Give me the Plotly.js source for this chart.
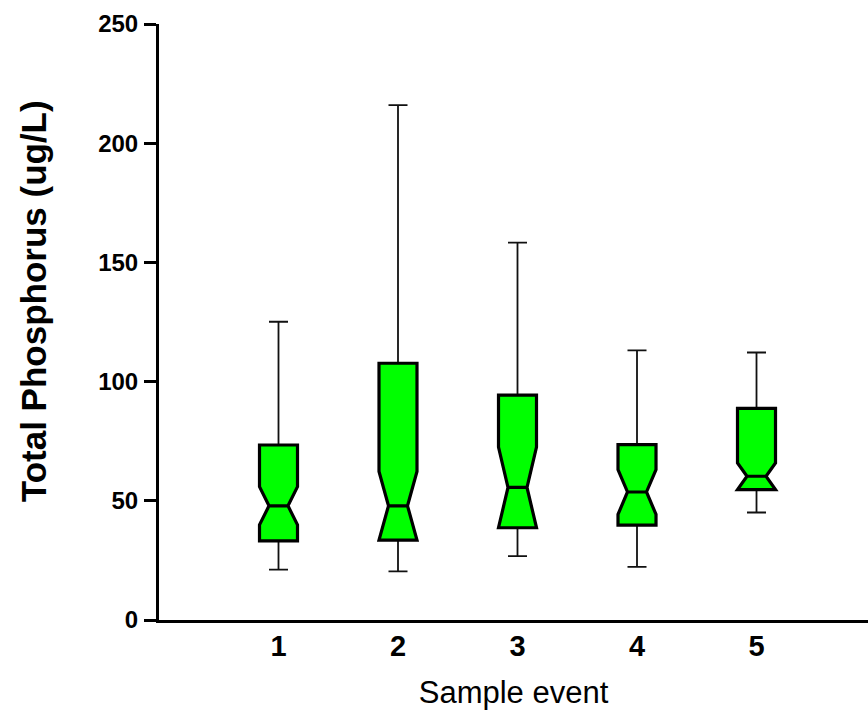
<!DOCTYPE html>
<html>
<head>
<meta charset="utf-8">
<script src="https://cdn.plot.ly/plotly-3.0.1.min.js"></script>
<style>
  html, body { margin: 0; padding: 0; background: #ffffff; }
  #chart { width: 868px; height: 715px; }
</style>
</head>
<body>
<div id="chart"></div>
<script>
// Sample events (x positions / tick labels)
const events = [1, 2, 3, 4, 5];
const eventLabels = ['1', '2', '3', '4', '5'];

// Box statistics (ug/L)
const lowerWhisker = [21.1, 20.4, 26.8, 22.3, 45.1];
const q1Values     = [33.2, 33.5, 38.7, 39.8, 54.7];
const medianValues = [47.9, 47.9, 55.6, 53.7, 60.3];
const q3Values     = [73.4, 107.7, 94.3, 73.6, 88.8];
const upperWhisker = [125.1, 216.0, 158.3, 113.1, 112.2];
const notchSpans   = [8.0, 14.4, 16.9, 9.4, 5.6];

const yTicks = [0, 50, 100, 150, 200, 250];

const fillGreen = '#00ff00';
const boxWidth = 0.318;

// Trace 1: whiskers (thin lines) + box
const whiskerTrace = {
  type: 'box',
  x: events,
  q1: q1Values,
  median: medianValues,
  q3: q3Values,
  lowerfence: lowerWhisker,
  upperfence: upperWhisker,
  notched: true,
  notchspan: notchSpans,
  notchwidth: 0.25,
  width: boxWidth,
  whiskerwidth: 0.5,
  fillcolor: fillGreen,
  line: { color: '#111111', width: 1.8 },
  boxpoints: false,
  hoverinfo: 'skip',
  showlegend: false
};

// Trace 2: thick box outline drawn on top (fences at the quartiles -> no extra whiskers)
const boxTrace = {
  type: 'box',
  x: events,
  q1: q1Values,
  median: medianValues,
  q3: q3Values,
  lowerfence: q1Values,
  upperfence: q3Values,
  notched: true,
  notchspan: notchSpans,
  notchwidth: 0.25,
  width: boxWidth,
  whiskerwidth: 0,
  fillcolor: fillGreen,
  line: { color: '#000000', width: 3.2 },
  boxpoints: false,
  hoverinfo: 'skip',
  showlegend: false
};

const layout = {
  width: 868,
  height: 715,
  paper_bgcolor: '#ffffff',
  plot_bgcolor: '#ffffff',
  margin: { l: 159, r: 0, t: 24, b: 95, pad: 0 },
  boxmode: 'overlay',
  showlegend: false,
  font: { family: '"Liberation Sans", Arial, sans-serif', color: '#000000' },
  xaxis: {
    range: [0, 5.933],
    tickmode: 'array',
    tickvals: events,
    ticktext: eventLabels,
    ticks: '',
    ticklabelstandoff: -2,
    tickfont: { size: 29, weight: 'bold', color: '#000000' },
    showline: true,
    linecolor: '#000000',
    linewidth: 3,
    showgrid: false,
    zeroline: false,
    fixedrange: true,
    title: {
      text: 'Sample event',
      font: { size: 31, color: '#000000' },
      standoff: 21
    }
  },
  yaxis: {
    range: [0, 250],
    tickmode: 'array',
    tickvals: yTicks,
    ticktext: yTicks.map(String),
    ticks: 'outside',
    ticklen: 12,
    tickwidth: 3,
    tickcolor: '#000000',
    ticklabelstandoff: 1,
    tickfont: { size: 24, weight: 'bold', color: '#000000' },
    showline: true,
    linecolor: '#000000',
    linewidth: 3,
    showgrid: false,
    zeroline: false,
    fixedrange: true
  },
  annotations: [{
    text: 'Total Phosphorus (ug/L)',
    xref: 'paper',
    yref: 'paper',
    x: 0,
    y: 0.535,
    xanchor: 'center',
    yanchor: 'middle',
    xshift: -126,
    textangle: -90,
    showarrow: false,
    font: { size: 35, weight: 'bold', color: '#000000' }
  }]
};

Plotly.newPlot('chart', [whiskerTrace, boxTrace], layout, { displayModeBar: false, staticPlot: true });
</script>
</body>
</html>
